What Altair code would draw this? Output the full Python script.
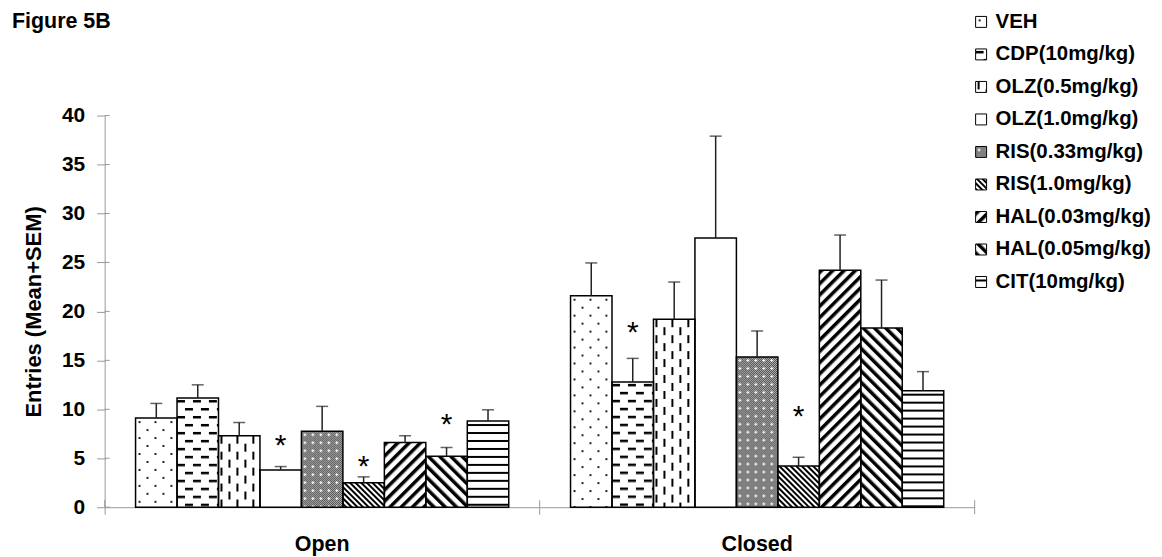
import base64
import altair as alt
import pandas as pd

# ---------------- data ----------------
groups = ["Open", "Closed"]
treatments = ["VEH", "CDP(10mg/kg)", "OLZ(0.5mg/kg)", "OLZ(1.0mg/kg)", "RIS(0.33mg/kg)",
              "RIS(1.0mg/kg)", "HAL(0.03mg/kg)", "HAL(0.05mg/kg)", "CIT(10mg/kg)"]
open_mean = [9.1, 11.15, 7.3, 3.8, 7.75, 2.5, 6.6, 5.2, 8.8]
open_sem = [1.5, 1.35, 1.35, 0.35, 2.55, 0.6, 0.7, 0.9, 1.15]
closed_mean = [21.6, 12.8, 19.2, 27.5, 15.35, 4.2, 24.2, 18.3, 11.9]
closed_sem = [3.35, 2.4, 3.8, 10.4, 2.65, 0.9, 3.6, 4.9, 1.95]
# significance asterisks (group, treatment, height in data units)
sig_group = ["Open", "Open", "Open", "Closed", "Closed"]
sig_treatment = ["OLZ(1.0mg/kg)", "RIS(1.0mg/kg)", "HAL(0.05mg/kg)", "CDP(10mg/kg)", "RIS(1.0mg/kg)"]
sig_height = [7.1, 4.9, 9.2, 18.6, 10.0]
y_ticks = [0, 5, 10, 15, 20, 25, 30, 35, 40]

# ---------------- styles (fill patterns) ----------------
def pattern_url(defs, layers):
    svg = ("<svg xmlns='http://www.w3.org/2000/svg' width='100%' height='100%'>"
           "<defs>" + defs + "</defs>"
           "<rect width='100%' height='100%' fill='white'/>" +
           "".join("<rect width='100%' height='100%' fill='url(#" + l + ")'/>" for l in layers) +
           "</svg>")
    return "data:image/svg+xml;base64," + base64.b64encode(svg.encode()).decode()

def stripes(pid, period, thick, angle):
    return ("<pattern id='" + pid + "' width='" + str(period) + "' height='" + str(period) +
            "' patternUnits='userSpaceOnUse' patternTransform='rotate(" + str(angle) + ")'>"
            "<rect x='0' y='0' width='" + str(thick) + "' height='" + str(period) + "' fill='black'/></pattern>")

PU = "patternUnits='userSpaceOnUse'"
patterns = {
    "VEH": pattern_url(
        "<pattern id='p' width='16' height='16' " + PU + ">"
        "<rect x='3' y='3' width='2' height='2' fill='#222'/>"
        "<rect x='11' y='11' width='2' height='2' fill='#222'/></pattern>", ["p"]),
    "CDP(10mg/kg)": pattern_url(
        "<pattern id='p' width='16' height='16' " + PU + ">"
        "<rect x='0' y='2' width='8' height='2.5' fill='black'/>"
        "<rect x='8' y='10' width='8' height='2.5' fill='black'/></pattern>", ["p"]),
    "OLZ(0.5mg/kg)": pattern_url(
        "<pattern id='p' width='16' height='16' " + PU + ">"
        "<rect x='2' y='0' width='2' height='8' fill='black'/>"
        "<rect x='10' y='8' width='2' height='8' fill='black'/></pattern>", ["p"]),
    "OLZ(1.0mg/kg)": pattern_url("", []),
    "RIS(0.33mg/kg)": pattern_url(
        "<pattern id='c' width='2' height='2' " + PU + ">"
        "<rect x='0' y='0' width='1' height='1' fill='black'/>"
        "<rect x='1' y='1' width='1' height='1' fill='black'/></pattern>"
        "<pattern id='w' width='8' height='8' " + PU + ">"
        "<rect x='3' y='2' width='1' height='3' fill='white'/>"
        "<rect x='2' y='3' width='3' height='1' fill='white'/></pattern>", ["c", "w"]),
    "RIS(1.0mg/kg)": pattern_url(stripes("p", 4, 2, -45), ["p"]),
    "HAL(0.03mg/kg)": pattern_url(stripes("p", 8, 3.5, 45), ["p"]),
    "HAL(0.05mg/kg)": pattern_url(stripes("p", 8, 3.5, -45), ["p"]),
    "CIT(10mg/kg)": pattern_url(
        "<pattern id='p' width='8' height='8' " + PU + ">"
        "<rect x='0' y='3' width='8' height='2' fill='black'/></pattern>", ["p"]),
}

FONT = "Liberation Sans"
AXIS_GRAY = "#999999"
W, H = 873, 393

# ---------------- tables ----------------
rows = []
for g, means, sems in [("Open", open_mean, open_sem), ("Closed", closed_mean, closed_sem)]:
    for t, m, s in zip(treatments, means, sems):
        rows.append({"group": g, "treatment": t, "mean": m, "sem": s, "url": patterns[t]})
df = pd.DataFrame(rows)
sig_df = pd.DataFrame({"group": sig_group, "treatment": sig_treatment, "h": sig_height})
tick_df = pd.DataFrame({"v": y_ticks})
group_df = pd.DataFrame({"group": groups})
legend_df = pd.DataFrame({"treatment": treatments, "idx": list(range(len(treatments))),
                          "url": [patterns[t] for t in treatments]})
one = pd.DataFrame({"k": [0]})

# ---------------- encodings ----------------
X = alt.X("group:N", sort=groups, scale=alt.Scale(paddingInner=0, paddingOuter=0),
          axis=alt.Axis(title=None, labelAngle=0, tickSize=7, tickColor=AXIS_GRAY, domainColor=AXIS_GRAY,
                        bandPosition=0, labelFont=FONT, labelFontSize=21.5, labelFontWeight="bold",
                        labelColor="black", labelPadding=19))
XO = alt.XOffset("treatment:N", sort=treatments, scale=alt.Scale(paddingInner=0, paddingOuter=0.745))
YS = alt.Scale(domain=[0, 40], nice=False)
Y = alt.Y("mean:Q", scale=YS,
          axis=alt.Axis(values=y_ticks, grid=False, tickSize=8, tickColor=AXIS_GRAY, domainColor=AXIS_GRAY,
                        labelFont=FONT, labelFontSize=21, labelFontWeight="bold", labelColor="black",
                        labelPadding=12, title="Entries (Mean+SEM)", titleFont=FONT, titleFontSize=22,
                        titleFontWeight="bold", titleColor="black", titlePadding=16))

base = alt.Chart(df)
bars_img = base.mark_image(aspect=False).encode(x=X, xOffset=XO, y=Y, y2=alt.datum(0), url="url:N")
bars_outline = base.mark_bar(fill="transparent", stroke="black", strokeWidth=1.5).encode(
    x=X, xOffset=XO, y=alt.Y("mean:Q", scale=YS))
err = base.transform_calculate(top="datum.mean + datum.sem")
err_rule = err.mark_rule(color="#222222", strokeWidth=1.5).encode(
    x=X, xOffset=XO, y=alt.Y("mean:Q", scale=YS), y2="top:Q")
err_cap = err.mark_tick(color="#222222", thickness=1.5, size=12).encode(
    x=X, xOffset=XO, y=alt.Y("top:Q", scale=YS))
stars = alt.Chart(sig_df).mark_text(text="*", fontSize=30, font=FONT, baseline="alphabetic", dy=17,
                                    color="black").encode(
    x=X, xOffset=XO, y=alt.Y("h:Q", scale=YS))
y_inner_ticks = alt.Chart(tick_df).mark_rule(color=AXIS_GRAY).encode(
    y=alt.Y("v:Q", scale=YS), x=alt.value(0), x2=alt.value(5))
x_inner_ticks = alt.Chart(group_df).mark_rule(color=AXIS_GRAY).encode(
    x=alt.X("group:N", sort=groups, bandPosition=0), y=alt.value(H - 7), y2=alt.value(H))
x_end_tick = alt.Chart(one).mark_rule(color=AXIS_GRAY).encode(
    x=alt.value(W), y=alt.value(H - 7), y2=alt.value(H + 7))

main = alt.layer(bars_img, bars_outline, err_rule, err_cap, stars, y_inner_ticks, x_inner_ticks, x_end_tick)

# ---------------- legend ----------------
LY = alt.Y("idx:Q", scale=alt.Scale(domain=[0, 8], range=[-94, 167], nice=False, zero=False), axis=None)
leg_img = alt.Chart(legend_df).mark_image(aspect=False, height=11).encode(
    x=alt.value(874), x2=alt.value(885), y=LY, url="url:N")
leg_box = alt.Chart(legend_df).mark_point(shape="square", size=121, filled=False, color="black",
                                          strokeWidth=1, opacity=1).encode(x=alt.value(879.5), y=LY)
leg_text = alt.Chart(legend_df).mark_text(align="left", baseline="middle", font=FONT, fontSize=20.5,
                                          fontWeight="bold", color="black").encode(
    x=alt.value(894), y=LY, text="treatment:N")
legend = alt.layer(leg_img, leg_box, leg_text)

fig_title = alt.Chart(one).mark_text(text="Figure 5B", align="left", baseline="alphabetic", font=FONT,
                                     fontSize=21.5, fontWeight="bold", color="black").encode(
    x=alt.value(-93), y=alt.value(-87.5))

chart = alt.layer(main, legend, fig_title).resolve_scale(y="independent").properties(
    width=W, height=H, autosize="none",
    padding={"left": 97, "top": 107, "right": 180, "bottom": 48},
).configure_view(stroke=None)

chart.save("out.html", embed_options={"renderer": "svg", "actions": False})
